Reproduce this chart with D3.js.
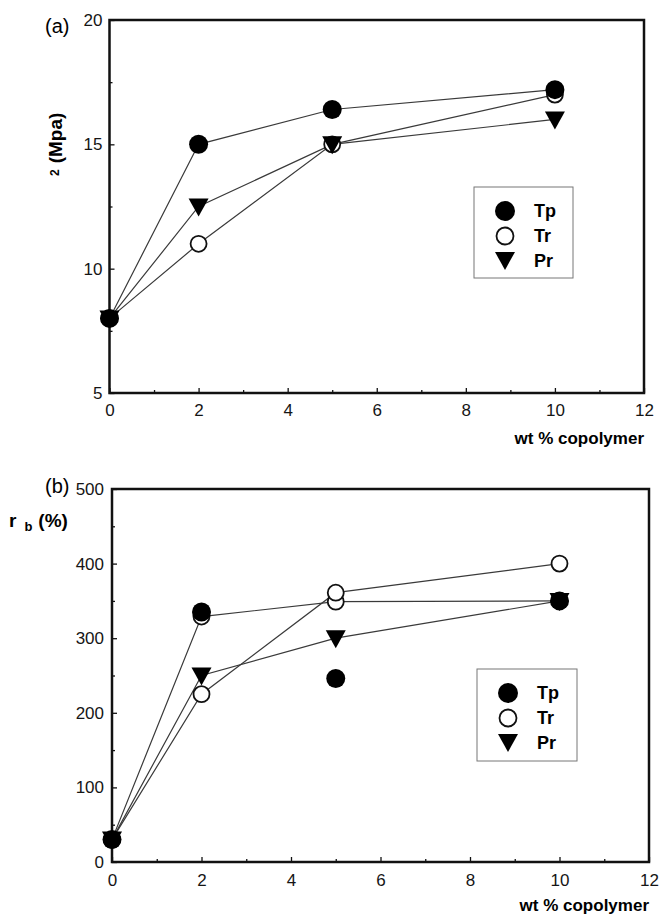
<!DOCTYPE html>
<html>
<head>
<meta charset="utf-8">
<script src="https://cdn.jsdelivr.net/npm/d3@7"></script>
<style>
  body { margin: 0; background: #fff; }
  svg { font-family: "Liberation Sans", Arial, Helvetica, sans-serif; }
</style>
</head>
<body>
<script>

let width = 659,
    height = 914;

// x values shared by both panels (wt % copolymer)
const wt = [0, 2, 5, 10];
const xTicks = [0, 2, 4, 6, 8, 10, 12];
const xMinor = [1, 3, 5, 7, 9, 11];

// panel (a) values
const aTp = [8, 15, 16.4, 17.2];
const aTr = [8, 11, 15, 17.0];
const aPr = [8, 12.5, 15, 16];
const aTicks = [5, 10, 15, 20];
const aMinor = [7.5, 12.5, 17.5];

// panel (b) values
const bTp = [30, 335, 246, 350];      // filled circles, not joined
const bTpLine = [30, 329, 349, 350];  // joined line, drawn with open circles
const bTr = [30, 225, 361, 400];
const bPr = [30, 250, 300, 350];
const bTicks = [0, 100, 200, 300, 400, 500];
const bMinor = [50, 150, 250, 350, 450];

const legendNames = ["Tp", "Tr", "Pr"];

let svg = d3.select("body").append("svg")
    .attr("width", width)
    .attr("height", height);

let lineColor = "#3a3a3a";

// one panel: frame, inward ticks, lines and markers
let drawPanel = function (p) {
  let x = d3.scaleLinear().domain([0, 12]).range([p.left, p.right]);
  let y = d3.scaleLinear().domain(p.yDomain).range([p.bottom, p.top]);
  let g = svg.append("g");

  // minor ticks
  g.append("g")
    .attr("transform", "translate(0," + p.bottom + ")")
    .call(d3.axisBottom(x).tickValues(xMinor).tickSize(-3).tickFormat(""))
    .call(a => a.select(".domain").remove());
  g.append("g")
    .attr("transform", "translate(" + p.left + ",0)")
    .call(d3.axisLeft(y).tickValues(p.yMinor).tickSize(-3).tickFormat(""))
    .call(a => a.select(".domain").remove());

  // major ticks with labels
  g.append("g")
    .attr("transform", "translate(0," + p.bottom + ")")
    .call(d3.axisBottom(x).tickValues(xTicks).tickSize(-5).tickPadding(p.xPad))
    .call(a => a.select(".domain").remove())
    .call(a => a.selectAll("text").attr("font-size", 17).attr("fill", "#151515")
      .style("font-family", "Liberation Sans, Arial, sans-serif"));
  g.append("g")
    .attr("transform", "translate(" + p.left + ",0)")
    .call(d3.axisLeft(y).tickValues(p.yTicks).tickSize(-5).tickPadding(p.yPad))
    .call(a => a.select(".domain").remove())
    .call(a => a.selectAll("text").attr("font-size", 17).attr("fill", "#151515")
      .style("font-family", "Liberation Sans, Arial, sans-serif"));

  g.selectAll(".tick line").attr("stroke", "#111").attr("stroke-width", 1.3);

  // frame
  g.append("rect")
    .attr("x", p.left).attr("y", p.top)
    .attr("width", p.right - p.left).attr("height", p.bottom - p.top)
    .attr("fill", "none").attr("stroke", "#111").attr("stroke-width", 2.5);

  let line = d3.line().x((d, i) => x(wt[i])).y(d => y(d));

  p.lines.forEach(function (s) {
    g.append("path")
      .datum(s)
      .attr("d", line)
      .attr("fill", "none")
      .attr("stroke", lineColor)
      .attr("stroke-width", 1.2);
  });

  p.open.forEach(function (s) {
    g.selectAll(null).data(s).enter().append("circle")
      .attr("cx", (d, i) => x(wt[i]))
      .attr("cy", d => y(d))
      .attr("r", 8)
      .attr("fill", "#fff")
      .attr("stroke", "#111")
      .attr("stroke-width", 1.8);
  });

  g.selectAll(null).data(p.filled).enter().append("circle")
    .attr("cx", (d, i) => x(wt[i]))
    .attr("cy", d => y(d))
    .attr("r", 9.5)
    .attr("fill", "#000");

  g.selectAll(null).data(p.tri).enter().append("path")
    .attr("d", triangle)
    .attr("transform", (d, i) => "translate(" + x(wt[i]) + "," + y(d) + ")")
    .attr("fill", "#000");

  // legend
  let lg = g.append("g");
  lg.append("rect")
    .attr("x", p.legend[0]).attr("y", p.legend[1])
    .attr("width", p.legend[2]).attr("height", p.legend[3])
    .attr("fill", "#fff").attr("stroke", "#777").attr("stroke-width", 1);
  legendNames.forEach(function (name, i) {
    let cx = p.legend[0] + 31,
        cy = p.legend[1] + 24 + i * 25;
    if (i == 0) {
      lg.append("circle").attr("cx", cx).attr("cy", cy).attr("r", 10).attr("fill", "#000");
    } else if (i == 1) {
      lg.append("circle").attr("cx", cx).attr("cy", cy).attr("r", 8.5)
        .attr("fill", "#fff").attr("stroke", "#111").attr("stroke-width", 1.8);
    } else {
      lg.append("path").attr("d", triangle)
        .attr("transform", "translate(" + cx + "," + (cy - 1) + ")").attr("fill", "#000");
    }
    lg.append("text")
      .attr("x", p.legend[0] + 60).attr("y", cy + 6)
      .attr("font-size", 18).attr("font-weight", "bold")
      .text(name);
  });

  // x axis title
  g.append("text")
    .attr("x", p.right).attr("y", p.xTitleY)
    .attr("text-anchor", "end")
    .attr("font-size", 17).attr("font-weight", "bold")
    .text("wt % copolymer");

  return g;
};

// downward pointing triangle centred on the point
let triangle = "M-10,-8L10,-8L0,10Z";

let ga = drawPanel({
  left: 109.5, right: 644, top: 20, bottom: 393,
  yDomain: [5, 20], yTicks: aTicks, yMinor: aMinor,
  xPad: 11, yPad: 7,
  lines: [aTp, aTr, aPr],
  open: [aTr],
  filled: aTp,
  tri: aPr,
  legend: [474, 187, 99, 91],
  xTitleY: 444
});

ga.append("text")
  .attr("x", 45).attr("y", 33)
  .attr("font-size", 20)
  .text("(a)");

let yl = ga.append("text")
  .attr("transform", "translate(62,176) rotate(-90)")
  .attr("font-weight", "bold");
yl.append("tspan").attr("font-size", 12).attr("dy", -3).text("2");
yl.append("tspan").attr("font-size", 19).attr("dy", 3).attr("dx", 6).text("(Mpa)");

let gb = drawPanel({
  left: 112, right: 649, top: 489, bottom: 862,
  yDomain: [0, 500], yTicks: bTicks, yMinor: bMinor,
  xPad: 12, yPad: 8,
  lines: [bTpLine, bTr, bPr],
  open: [bTpLine, bTr],
  filled: bTp,
  tri: bPr,
  legend: [477, 669, 100, 92],
  xTitleY: 911
});

gb.append("text")
  .attr("x", 45).attr("y", 493)
  .attr("font-size", 20)
  .text("(b)");

let rl = gb.append("text")
  .attr("x", 9).attr("y", 527)
  .attr("font-weight", "bold")
  .attr("font-size", 19);
rl.append("tspan").text("r");
rl.append("tspan").attr("font-size", 13).attr("dx", 8).attr("dy", 4).text("b");
rl.append("tspan").attr("dx", 6).attr("dy", -4).text("(%)");

</script>
</body>
</html>
